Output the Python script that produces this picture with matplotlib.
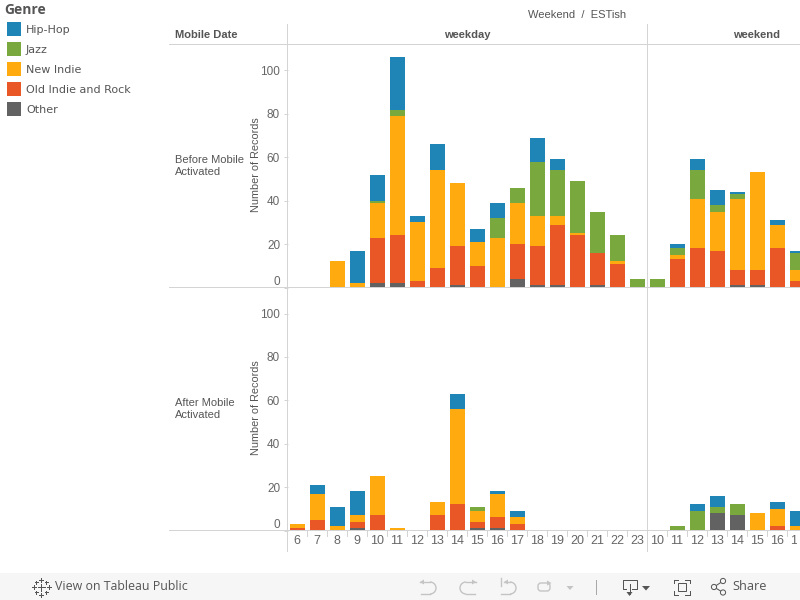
import matplotlib
matplotlib.use("Agg")
import matplotlib.pyplot as plt
import numpy as np
from matplotlib.patches import Rectangle, Arc, Circle, FancyBboxPatch

plt.rcParams['font.family'] = ['Liberation Sans', 'DejaVu Sans']

genres = ['Other', 'Old Indie and Rock', 'New Indie', 'Jazz', 'Hip-Hop']
colors = {'Hip-Hop': '#1f84b6', 'Jazz': '#79a83f', 'New Indie': '#ffaa0f',
          'Old Indie and Rock': '#ea5727', 'Other': '#626262'}
legend_order = ['Hip-Hop', 'Jazz', 'New Indie', 'Old Indie and Rock', 'Other']

weekday_hours = [6, 7, 8, 9, 10, 11, 12, 13, 14, 15, 16, 17, 18, 19, 20, 21, 22, 23]
weekend_hours = [10, 11, 12, 13, 14, 15, 16, 17]
hour_labels = weekday_hours + weekend_hours

# counts per hour, weekday hours then weekend hours
before_other = [0, 0, 0, 0, 2, 2, 0, 0, 1, 0, 0, 4, 1, 1, 0, 1, 0, 0,
                0, 0, 0, 0, 1, 1, 0, 0]
before_old = [0, 0, 0, 0, 21, 22, 3, 9, 18, 10, 0, 16, 18, 28, 24, 15, 11, 0,
              0, 13, 18, 17, 7, 7, 18, 3]
before_new = [0, 0, 12, 2, 16, 55, 27, 45, 29, 11, 23, 19, 14, 4, 1, 0, 1, 0,
              0, 2, 23, 18, 33, 45, 11, 5]
before_jazz = [0, 0, 0, 0, 1, 3, 0, 0, 0, 0, 9, 7, 25, 21, 24, 19, 12, 4,
               4, 3, 13, 3, 2, 0, 0, 8]
before_hiphop = [0, 0, 0, 15, 12, 24, 3, 12, 0, 6, 7, 0, 11, 5, 0, 0, 0, 0,
                 0, 2, 5, 7, 1, 0, 2, 1]

after_other = [0, 0, 0, 1, 0, 0, 0, 0, 0, 1, 1, 0, 0, 0, 0, 0, 0, 0,
               0, 0, 0, 8, 7, 0, 0, 0]
after_old = [1, 5, 0, 3, 7, 0, 0, 7, 12, 3, 5, 3, 0, 0, 0, 0, 0, 0,
             0, 0, 0, 0, 0, 0, 2, 0]
after_new = [2, 12, 2, 3, 18, 1, 0, 6, 44, 5, 11, 3, 0, 0, 0, 0, 0, 0,
             0, 0, 0, 0, 0, 8, 8, 2]
after_jazz = [0, 0, 0, 0, 0, 0, 0, 0, 0, 2, 0, 0, 0, 0, 0, 0, 0, 0,
              0, 2, 9, 3, 5, 0, 0, 0]
after_hiphop = [0, 4, 9, 11, 0, 0, 0, 0, 7, 0, 1, 3, 0, 0, 0, 0, 0, 0,
                0, 0, 3, 5, 0, 0, 3, 7]

before = [before_other, before_old, before_new, before_jazz, before_hiphop]
after = [after_other, after_old, after_new, after_jazz, after_hiphop]

W, H = 800, 600
LINE = '#d4d4d4'
GREY = '#666666'
TXT = '#555555'
PX = 0.72  # one pixel in points
fig = plt.figure(figsize=(8, 6), dpi=100, facecolor='white')


def panel(top, bottom, rows):
    ax = fig.add_axes([288 / W, 1 - bottom / H, (W - 288) / W, (bottom - top) / H])
    x = np.arange(len(hour_labels))
    base = np.zeros(len(hour_labels))
    for name, vals in zip(genres, rows):
        ax.bar(x, vals, width=0.75, bottom=base, color=colors[name], linewidth=0)
        base = base + np.array(vals)
    ax.set_xlim((288 - 297) / 20, (W - 297) / 20)
    ax.set_ylim(0, (bottom - top) / 2.17)
    ax.set_yticks([0, 20, 40, 60, 80, 100])
    ax.tick_params(axis='y', length=3.2, width=PX, color=LINE, labelcolor=GREY,
                   labelsize=8.5, pad=2.5)
    ax.get_yticklabels()[0].set_va('bottom')
    ax.set_xticks([])
    for s in ax.spines.values():
        s.set_visible(False)
    ax.patch.set_alpha(0)
    return ax


panel(44.5, 287.5, before)
panel(288, 530.5, after)

# pixel overlay for headers, rules, legend and toolbar
ov = fig.add_axes([0, 0, 1, 1], zorder=-1)
ov.set_xlim(0, W)
ov.set_ylim(H, 0)
ov.axis('off')
top = fig.add_axes([0, 0, 1, 1], zorder=5)
top.set_xlim(0, W)
top.set_ylim(H, 0)
top.axis('off')
top.patch.set_alpha(0)

ov.add_patch(Rectangle((0, 573), W, 27, color='#f6f6f6', lw=0))

for yy in [44, 287, 530]:
    top.plot([169, W], [yy, yy], color=LINE, lw=PX)
for xx in [287, 647]:
    top.plot([xx, xx], [24, 551], color=LINE, lw=PX)

# hour labels and separators under the lower panel
cell = Rectangle((288, 530), 509, 22, transform=top.transData)
for i, lab in enumerate(hour_labels):
    px = 297 + 20 * i
    top.plot([px + 10, px + 10], [530, 536], color=LINE, lw=PX)
    t = top.text(px, 541, str(lab), ha='center', va='center', fontsize=9, color=GREY)
    t.set_clip_on(True)
    t.set_clip_path(cell)

top.text(577, 14.5, 'Weekend  /  ESTish', ha='center', va='center', fontsize=8, color=TXT)
top.text(175, 34.5, 'Mobile Date', ha='left', va='center', fontsize=8, color=TXT, weight='bold')
top.text(467, 34.5, 'weekday', ha='center', va='center', fontsize=8, color=TXT, weight='bold')
top.text(757, 34.5, 'weekend', ha='center', va='center', fontsize=8, color=TXT, weight='bold')
top.text(175, 166, 'Before Mobile\nActivated', ha='left', va='center', fontsize=8,
         color=TXT, linespacing=1.35)
top.text(175, 409, 'After Mobile\nActivated', ha='left', va='center', fontsize=8,
         color=TXT, linespacing=1.35)
for yy in [165, 408]:
    top.text(256, yy, 'Number of Records', rotation=90, ha='center', va='center',
             fontsize=7.8, color=TXT)

# legend
top.text(4, 10.5, 'Genre', ha='left', va='center', fontsize=10, weight='bold',
         color=TXT, family=['Open Sans', 'DejaVu Sans'])
for i, name in enumerate(legend_order):
    yy = 22 + 20 * i
    top.add_patch(Rectangle((7, yy), 14, 14, color=colors[name], lw=0))
    top.text(26, yy + 8, name, ha='left', va='center', fontsize=8, color=TXT,
             family='DejaVu Sans')

# toolbar
top.text(55, 587, 'View on Tableau Public', ha='left', va='center', fontsize=8.9,
         color=TXT, family=['Open Sans', 'DejaVu Sans'])
top.text(732, 587, 'Share', ha='left', va='center', fontsize=9.2, color=TXT,
         family=['Open Sans', 'DejaVu Sans'])

# tableau mark
for cx, cy, r in [(41, 587, 3.5), (33.5, 587, 2), (48.5, 587, 2), (41, 579.5, 2),
                  (41, 594.5, 2), (36, 582, 1.5), (46, 582, 1.5), (36, 592, 1.5), (46, 592, 1.5)]:
    top.plot([cx - r, cx + r], [cy, cy], color=TXT, lw=PX)
    top.plot([cx, cx], [cy - r, cy + r], color=TXT, lw=PX)

soft = '#c4c4c4'
dark = '#555555'


def turn(x0, x1, cx, theta1, theta2, tip_x, tip_dir):
    # curved undo style arrow
    top.add_patch(Arc((cx, 588), 12, 12, theta1=theta1, theta2=theta2, color=soft, lw=1))
    top.plot([x0, cx], [582, 582], color=soft, lw=1)
    top.plot([x1, cx], [594, 594], color=soft, lw=1)
    top.fill([tip_x, tip_x + tip_dir * 4, tip_x + tip_dir * 4], [582, 579.5, 584.5], color=soft, lw=0)


turn(420, 421, 430, -90, 90, 420, 1)
turn(476, 475, 466, 90, 270, 476, -1)
turn(504, 501, 510, -90, 90, 504, 1)
top.plot([500.5, 500.5], [578, 586], color=soft, lw=1)
top.add_patch(FancyBboxPatch((538, 583), 12, 8, boxstyle='round,pad=0,rounding_size=3',
                             fill=False, ec=soft, lw=1))
top.fill([551.5, 547, 547], [583, 580.5, 585.5], color=soft, lw=0)
top.fill([566.5, 573.5, 570], [586, 586, 590], color=soft, lw=0)
top.plot([596, 596], [580, 594], color='#a8a8a8', lw=PX)

# download
top.plot([626, 622.5, 622.5, 636.5, 636.5, 632], [589, 589, 579.5, 579.5, 589, 589], color=dark, lw=PX)
top.plot([629.5, 629.5], [584, 594], color=dark, lw=PX)
top.fill([626.5, 632.5, 629.5], [592, 592, 596], color=dark, lw=0)
top.fill([642, 650, 646], [586, 586, 590.5], color=dark, lw=0)

# fullscreen
top.add_patch(Rectangle((677.5, 582.5), 8, 8, fill=False, ec=dark, lw=PX))
for xa, xb, ya in [(673.5, 678, 579.5), (685, 689.5, 579.5), (673.5, 678, 594.5), (685, 689.5, 594.5)]:
    top.plot([xa, xb], [ya, ya], color=dark, lw=PX)
for xa, ya, yb in [(673.5, 579.5, 583), (689.5, 579.5, 583), (673.5, 591, 594.5), (689.5, 591, 594.5)]:
    top.plot([xa, xa], [ya, yb], color=dark, lw=PX)

# share
pts = [(714, 587), (723, 581), (723, 592.5)]
top.plot([pts[1][0], pts[0][0], pts[2][0]], [pts[1][1], pts[0][1], pts[2][1]], color=dark, lw=PX)
for p in pts:
    top.add_patch(Circle(p, 2.6, fc='#f6f6f6', ec=dark, lw=PX, zorder=4))

fig.savefig('out.png', dpi=100)
